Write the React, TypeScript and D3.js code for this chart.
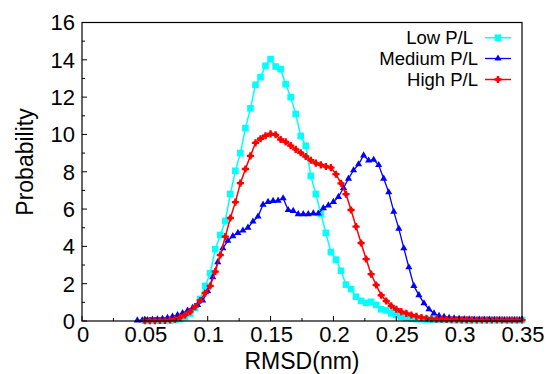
import React from "react";
import * as d3 from "d3";

// ---- data ----
// Low P/L and High P/L are sampled on bins starting at 0.050 nm (step 0.004 nm)
const lowStart = 0.05;
const lowValues = [
  0.02, 0.02, 0.02, 0.02, 0.02, 0.03, 0.05, 0.1, 0.2, 0.4, 0.7, 1.18, 1.88, 2.56, 3.85, 4.61, 5.36, 6.81,
  8.05, 9.0, 10.34, 11.4, 12.66, 13.07, 13.68, 14.04, 13.64, 13.5, 12.7, 12.0, 11.1, 9.92, 9.39, 7.78,
  6.81, 5.75, 4.72, 3.7, 3.29, 2.69, 1.95, 1.71, 1.3, 1.08, 0.97, 1.03, 0.86, 0.63, 0.57, 0.41, 0.32,
  0.23, 0.17, 0.13, 0.1, 0.09, 0.08, 0.07, 0.07, 0.06, 0.06, 0.06, 0.05, 0.05, 0.05, 0.05, 0.05, 0.05,
  0.05, 0.05, 0.05, 0.05, 0.05, 0.05, 0.05, 0.05,
];
const highStart = 0.05;
const highValues = [
  0.02, 0.02, 0.02, 0.03, 0.03, 0.05, 0.09, 0.18, 0.32, 0.5, 0.77, 1.1, 1.5, 1.88, 2.65, 3.54, 4.52, 5.52,
  6.37, 7.39, 8.15, 8.85, 9.55, 9.77, 9.93, 10.03, 9.98, 9.73, 9.6, 9.4, 9.2, 9.02, 8.82, 8.62, 8.46,
  8.37, 8.28, 8.22, 7.87, 7.38, 6.8, 5.95, 5.06, 4.18, 3.32, 2.51, 1.93, 1.38, 1.07, 0.81, 0.63, 0.5,
  0.41, 0.32, 0.25, 0.19, 0.15, 0.12, 0.1, 0.09, 0.08, 0.07, 0.07, 0.06, 0.06, 0.06, 0.05, 0.05, 0.05,
  0.05, 0.05, 0.05, 0.05, 0.05, 0.05, 0.05,
];
// Medium P/L is sampled on bins starting at 0.044 nm (step 0.004 nm)
const mediumStart = 0.044;
const mediumValues = [
  0.03, 0.04, 0.05, 0.07, 0.09, 0.12, 0.17, 0.24, 0.32, 0.42, 0.56, 0.7, 0.86, 1.1, 1.6, 2.35, 3.15, 3.9,
  4.3, 4.55, 4.72, 4.85, 5.0, 5.33, 5.6, 6.24, 6.38, 6.44, 6.45, 6.58, 5.95, 5.9, 5.73, 5.73, 5.73,
  5.77, 5.76, 6.05, 6.2, 6.38, 6.65, 7.13, 7.63, 8.08, 8.4, 8.88, 8.6, 8.64, 8.36, 7.63, 6.9, 5.86,
  4.95, 3.9, 2.88, 1.88, 1.39, 0.95, 0.63, 0.41, 0.27, 0.22, 0.17, 0.14, 0.12, 0.1, 0.09, 0.08, 0.08,
  0.07, 0.07, 0.06, 0.06, 0.05, 0.05, 0.05, 0.05,
];
const binStep = 0.004;

const seriesNames = ["Low P/L", "Medium P/L", "High P/L"];
const seriesColors = ["#00ffff", "#0000ff", "#ff0000"];

const xTicks = [0, 0.05, 0.1, 0.15, 0.2, 0.25, 0.3, 0.35];
const xTickLabels = ["0", "0.05", "0.1", "0.15", "0.2", "0.25", "0.3", "0.35"];
const xMinor = [0.025, 0.075, 0.125, 0.175, 0.225, 0.275, 0.325];
const yTicks = [0, 2, 4, 6, 8, 10, 12, 14, 16];
const yMinor = [1, 3, 5, 7, 9, 11, 13, 15];

const xTitle = "RMSD(nm)";
const yTitle = "Probability";

// ---- layout ----
const W = 551;
const H = 374;
const M = { left: 82, right: 29, top: 22.5, bottom: 53 };
const FONT = "'Liberation Sans', Arial, Helvetica, sans-serif";

export default function App() {
  const x = d3.scaleLinear().domain([0, 0.35]).range([M.left, W - M.right]);
  const y = d3.scaleLinear().domain([0, 16]).range([H - M.bottom, M.top]);

  const toPts = (start: number, vals: number[]) =>
    vals.map((v, i) => [start + i * binStep, v] as [number, number]);

  const series = [
    toPts(lowStart, lowValues),
    toPts(mediumStart, mediumValues),
    toPts(highStart, highValues),
  ];

  const line = d3
    .line<[number, number]>()
    .x((d) => x(d[0]))
    .y((d) => y(d[1]));

  const sqr = d3.symbol().type(d3.symbolSquare).size(44)();
  const tri = d3.symbol().type(d3.symbolTriangle).size(22)();
  const crs = d3.symbol().type(d3.symbolCross).size(28)();
  const dia = d3.symbol().type(d3.symbolCircle).size(16)();
  const markers = [[sqr], [tri], [crs, dia]];
  const lineWidths = [1.5, 1.3, 1.5];

  const x0 = x(0);
  const x1 = x(0.35);
  const y0 = y(0);
  const y1 = y(16);

  const legendRows = [37.7, 58.5, 79.5];

  return (
    <svg width={W} height={H} style={{ position: "absolute", left: 0, top: 0, background: "#fff" }}>
      <rect x={0} y={0} width={W} height={H} fill="#fff" />
      {/* series */}
      {series.map((pts, si) => (
        <g key={si}>
          <path d={line(pts) || ""} fill="none" stroke={seriesColors[si]} strokeWidth={lineWidths[si]} />
          {pts.map((p, i) => (
            <g key={i} transform={`translate(${x(p[0])},${y(p[1])})`}>
              {markers[si].map((m, mi) => (
                <path key={mi} d={m} fill={seriesColors[si]} />
              ))}
            </g>
          ))}
        </g>
      ))}
      {/* frame */}
      <rect x={x0} y={y1} width={x1 - x0} height={y0 - y1} fill="none" stroke="#000" strokeWidth={1.2} />
      {/* x ticks */}
      {xTicks.map((t, i) => (
        <g key={"xt" + i}>
          <line x1={x(t)} x2={x(t)} y1={y0} y2={y0 - 5} stroke="#000" strokeWidth={1} />
          <text
            x={x(t) + 1}
            y={342}
            textAnchor="middle"
            fontFamily={FONT}
            fontSize={22}
            fill="#000"
          >
            {xTickLabels[i]}
          </text>
        </g>
      ))}
      {xMinor.map((t, i) => (
        <line key={"xm" + i} x1={x(t)} x2={x(t)} y1={y0} y2={y0 - 3} stroke="#000" strokeWidth={1} />
      ))}
      {/* y ticks */}
      {yTicks.map((t, i) => (
        <g key={"yt" + i}>
          <line x1={x0} x2={x0 + 5} y1={y(t)} y2={y(t)} stroke="#000" strokeWidth={1} />
          <text
            x={75}
            y={y(t)}
            dy="0.36em"
            textAnchor="end"
            fontFamily={FONT}
            fontSize={22}
            fill="#000"
          >
            {String(t)}
          </text>
        </g>
      ))}
      {yMinor.map((t, i) => (
        <line key={"ym" + i} x1={x0} x2={x0 + 3} y1={y(t)} y2={y(t)} stroke="#000" strokeWidth={1} />
      ))}
      {/* titles */}
      <text
        x={(x0 + x1) / 2}
        y={369}
        textAnchor="middle"
        fontFamily={FONT}
        fontSize={23}
        fill="#000"
      >
        {xTitle}
      </text>
      <text
        transform={`translate(33,162) rotate(-90)`}
        textAnchor="middle"
        fontFamily={FONT}
        fontSize={23}
        fill="#000"
      >
        {yTitle}
      </text>
      {/* legend */}
      {seriesNames.map((name, i) => (
        <g key={"lg" + i}>
          <text
            x={i === 0 ? 473 : 478}
            y={legendRows[i] + 6.7}
            textAnchor="end"
            fontFamily={FONT}
            fontSize={18.5}
            fill="#000"
          >
            {name}
          </text>
          <line x1={485} x2={511} y1={legendRows[i]} y2={legendRows[i]} stroke={seriesColors[i]} strokeWidth={lineWidths[i]} />
          <g transform={`translate(498,${legendRows[i]})`}>
            {markers[i].map((m, mi) => (
              <path key={mi} d={m} fill={seriesColors[i]} />
            ))}
          </g>
        </g>
      ))}
    </svg>
  );
}
